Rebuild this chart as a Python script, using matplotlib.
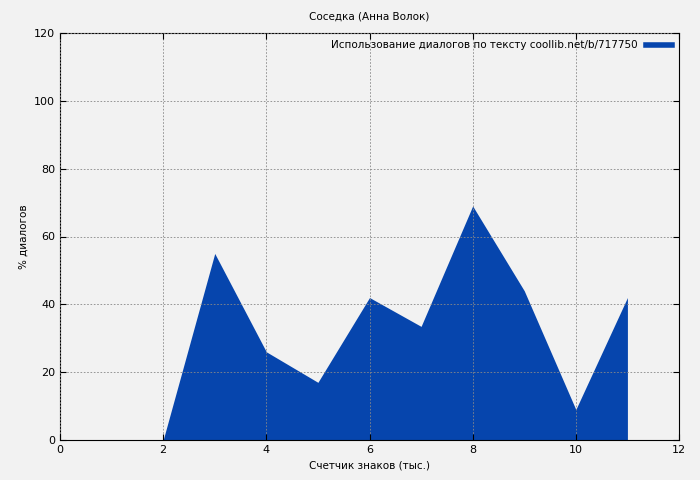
import matplotlib
matplotlib.use("Agg")
import matplotlib.pyplot as plt
from matplotlib.lines import Line2D

x = [2, 3, 4, 5, 6, 7, 8, 9, 10, 11]
y = [0, 55, 26, 17, 42, 33.5, 69, 44, 9, 42]
xticks = [0, 2, 4, 6, 8, 10, 12]
yticks = [0, 20, 40, 60, 80, 100, 120]
color = "#0645ad"

fig = plt.figure(figsize=(7, 4.8), dpi=100, facecolor="#f2f2f2")
ax = fig.add_axes([60/700, 40/480, 619/700, 407/480])
ax.set_facecolor("#f2f2f2")
ax.fill_between(x, y, 0, color=color, linewidth=0)
ax.set_xlim(0, 12)
ax.set_ylim(0, 120)
ax.set_xticks(xticks)
ax.set_yticks(yticks)
ax.tick_params(labelsize=8, direction="in", length=4, top=True, right=True)
ax.grid(True, color="#888888", linestyle=(0, (2, 2)), linewidth=0.6)
ax.set_axisbelow(False)
for s in ax.spines.values():
    s.set_linewidth(0.8)
ax.set_xlabel("Счетчик знаков (тыс.)", fontsize=7.5)
ax.set_ylabel("% диалогов", fontsize=7.5)
fig.text(0.527, 0.965, "Соседка (Анна Волок)", ha="center", va="center", fontsize=7.5)
h = Line2D([0], [0], color=color, linewidth=4)
leg = ax.legend([h], ["Использование диалогов по тексту coollib.net/b/717750"],
                loc="upper right", fontsize=7.5, frameon=False, markerfirst=False,
                handlelength=2.5, borderaxespad=0.3)
fig.savefig("out.png", dpi=100, facecolor=fig.get_facecolor())
